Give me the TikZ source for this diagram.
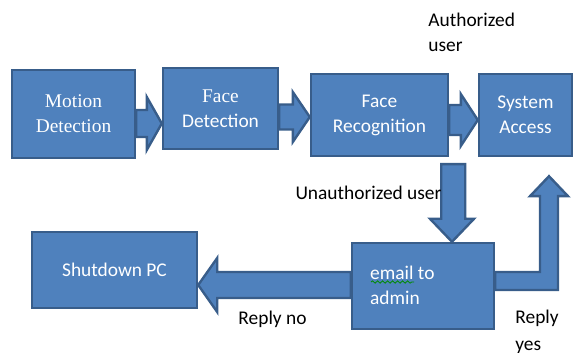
\documentclass[tikz,border=0pt]{standalone}
\usepackage{fontspec}
\setmainfont{Liberation Serif}
\setsansfont{Carlito}
\usetikzlibrary{calc}
\usetikzlibrary{positioning}
\usetikzlibrary{decorations.pathmorphing}
\definecolor{boxblue}{RGB}{79,129,189}
\definecolor{boxedge}{RGB}{56,93,138}
\tikzset{box/.style = {draw = boxedge, fill = boxblue, line width = 1.2pt, inner sep = 0,
                       text = white, align = center, font = \sffamily\fontsize{9.7}{12.5}\selectfont}}
\tikzset{fat/.style = {draw = boxedge, fill = boxblue, line width = 1.2pt, line join = miter}}
\tikzset{lbl/.style = {inner sep = 0, align = left, font = \sffamily\fontsize{9.7}{12.5}\selectfont}}

\begin{document}
\begin{tikzpicture}[x = 0.5pt, y = -0.5pt]
      \useasboundingbox (0, 0) rectangle (574, 353);

      \node [box, minimum width = 61.5pt, minimum height = 44pt] (md) at (73.5, 114) {\rmfamily Motion\\\rmfamily Detection};
      \node [box, minimum width = 57.5pt, minimum height = 40.5pt] (fd) at (220.5, 108.5) {\rmfamily Face\\Detection};
      \node [box, minimum width = 68.5pt, minimum height = 41pt] (fr) at (379.5, 115) {Face\\Recognition};
      \node [box, minimum width = 46.5pt, minimum height = 41pt] (sa) at (525.5, 115) {System\\Access};
      \node [box, minimum width = 82.5pt, minimum height = 38pt] (sd) at (114.5, 270) {Shutdown PC};
      \node [box, minimum width = 71pt, minimum height = 43pt] (em) at (423, 286) {};
      \node [lbl, text = white, anchor = west] (emtxt) at ($(em.west) + (19, -1)$) {email to\\admin};
      \draw [green!55!black, line width = 0.4pt, decorate,
             decoration = {snake, amplitude = 0.6pt, segment length = 2.5pt}] (371, 282) -- (414, 282);

      % block arrows along the top row
      \coordinate (a1) at ($(md.east) + (0, 9.5)$);
      \coordinate (b1) at ($(fd.west) + (0, 15)$);
      \draw [fat] ($(a1) + (0, -13.5)$) -| ($(b1) + (-15, -26.5)$) -- (b1)
            -- ($(b1) + (-15, 26.5)$) |- ($(a1) + (0, 13.5)$) -- cycle;
      \coordinate (a2) at ($(fd.east) + (0, 8.5)$);
      \coordinate (b2) at ($(fr.west) + (0, 2)$);
      \draw [fat] ($(a2) + (0, -12.5)$) -| ($(b2) + (-17, -25)$) -- (b2)
            -- ($(b2) + (-17, 25)$) |- ($(a2) + (0, 12.5)$) -- cycle;
      \coordinate (a3) at ($(fr.east) + (0, 5)$);
      \coordinate (b3) at ($(sa.west) + (0, 5)$);
      \draw [fat] ($(a3) + (0, -15)$) -| ($(b3) + (-17, -26)$) -- (b3)
            -- ($(b3) + (-17, 26)$) |- ($(a3) + (0, 15)$) -- cycle;

      % down to the mail, back to shutdown, up to access
      \coordinate (a4) at ($(fr.south east) + (4, 7)$);
      \coordinate (b4) at ($(em.north) + (29, 0)$);
      \draw [fat] ($(a4) + (-12, 0)$) |- ($(b4) + (-22, -23)$) -- (b4)
            -- ($(b4) + (22, -23)$) -| ($(a4) + (12, 0)$) -- cycle;
      \coordinate (a5) at ($(em.west) + (0, -1)$);
      \coordinate (b5) at ($(sd.east) + (0, 15)$);
      \draw [fat] ($(a5) + (0, -13)$) -| ($(b5) + (19, -27)$) -- (b5)
            -- ($(b5) + (19, 27)$) |- ($(a5) + (0, 13)$) -- cycle;
      \coordinate (b6) at ($(sa.south) + (23.5, 19)$);
      \draw [fat] ($(em.east) + (0, -14)$) -| ($(b6) + (-9, 20)$) -- ($(b6) + (-19, 20)$) -- (b6)
            -- ($(b6) + (19, 20)$) -- ($(b6) + (9, 20)$) |- ($(em.east) + (0, 4)$) -- cycle;

      \node [lbl, anchor = north west] (auth) at (428, 13) {Authorized\\user};
      \node [lbl] (unauth) at (368.5, 193) {Unauthorized user};
      \node [lbl] (rno) at (272.5, 319) {Reply no};
      \node [lbl, anchor = north west, font = \sffamily\fontsize{9.7}{13.5}\selectfont] (ryes) at (515, 310) {Reply\\yes};
    \end{tikzpicture}
\end{document}
